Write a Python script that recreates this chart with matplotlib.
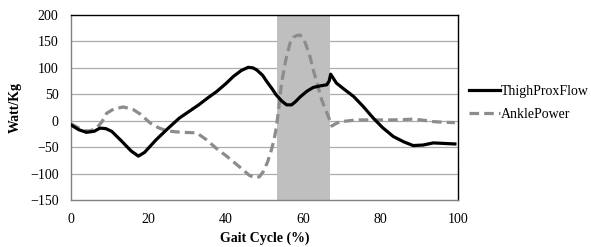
import matplotlib
matplotlib.use("Agg")
import matplotlib.pyplot as plt

plt.rcParams['font.family'] = ['Liberation Serif', 'DejaVu Serif']

thigh_x = [0, 2, 4, 6, 7.5, 9, 10.5, 13, 15.5, 17.4, 19, 22, 25, 28, 31, 33, 35.5, 37.6, 40, 42, 44, 45.8, 47, 48, 49.5, 50.6, 52, 53, 54.5, 55.7, 57, 58, 59.2, 61, 62.6, 64.5, 66.1, 66.7, 67.1, 67.8, 68.6, 70.5, 73, 75.5, 78.1, 80.5, 83.3, 86, 88.4, 91, 93.6, 96.5, 99.2]
thigh_y = [-8, -17, -22, -20, -14, -15, -20, -38, -57, -67, -60, -36, -15, 5, 20, 30, 44, 55, 70, 84, 95, 101, 100, 96, 86, 74, 60, 49, 37, 30, 30, 36, 45, 56, 63, 66, 68, 75, 88, 80, 71, 60, 46, 27, 5, -13, -30, -40, -47, -46, -42, -43, -44]

ankle_x = [0, 1.8, 3.6, 5, 6.6, 8, 9.2, 11, 13.5, 16.1, 18, 20.4, 22.5, 24.7, 27, 29, 32.5, 35, 37.5, 40.2, 42.5, 44.5, 46, 47.5, 48.7, 49.7, 50.8, 51.8, 52.5, 53.1, 53.8, 54.4, 55.5, 56.6, 57.5, 58.3, 59.2, 60.1, 60.9, 61.8, 62.6, 63.7, 64.8, 65.7, 66.5, 67.4, 68.3, 69.5, 73.8, 78, 82.4, 85.5, 88.4, 91, 93.6, 96.5, 99.2]
ankle_y = [-6, -13, -19, -19, -14, -2, 14, 22, 26, 21, 12, -4, -13, -19, -21, -22, -23, -36, -52, -67, -81, -93, -103, -108, -106, -96, -78, -55, -35, -11, 30, 71, 115, 147, 158, 161, 162, 155, 140, 120, 96, 68, 39, 22, 8, -10, -6, -2, 1.5, 1.5, 1.5, 2, 3, 1, -1.7, -3, -3.6]

shade_start = 53.2
shade_end = 66.9

x_ticks = [0, 20, 40, 60, 80, 100]
y_ticks = [-150, -100, -50, 0, 50, 100, 150, 200]

fig = plt.figure(figsize=(5.91, 2.47), dpi=100)
ax = fig.add_axes([71/591, 1 - 200/247, (458 - 71)/591, (200 - 15)/247])

ax.axvspan(shade_start, shade_end, color='#BFBFBF', zorder=1, lw=0)
for yv in y_ticks[1:-1]:
    ax.axhline(yv, color='#ABABAB', lw=0.9, zorder=0.5)

ax.plot(thigh_x, thigh_y, color='black', lw=2.3, label='ThighProxFlow', zorder=3, solid_joinstyle='round')
ax.plot(ankle_x, ankle_y, color='#8C8C8C', lw=2.3, ls=(0, (3, 1.6)), label='AnklePower', zorder=2)

ax.set_xlim(0, 100)
ax.set_ylim(-150, 200)
ax.set_xticks(x_ticks)
ax.set_yticks(y_ticks)
ax.tick_params(length=0, labelsize=10)
ax.tick_params(axis='y', pad=9)
ax.tick_params(axis='x', pad=9)

for s in ['left', 'bottom']:
    ax.spines[s].set_color('#808080')
    ax.spines[s].set_linewidth(1.0)
for s in ['top', 'right']:
    ax.spines[s].set_color('black')
    ax.spines[s].set_linewidth(1.0)

ax.set_xlabel('Gait Cycle (%)', fontsize=10, fontweight='bold', labelpad=4)
ax.set_ylabel('Watt/Kg', fontsize=10, fontweight='bold', labelpad=6)

ax.legend(loc='center left', bbox_to_anchor=(1.0, 0.525), frameon=False, fontsize=10,
          handlelength=2.2, handletextpad=0.05, labelspacing=0.7, borderaxespad=0.4)

fig.savefig('out.png', dpi=100)
